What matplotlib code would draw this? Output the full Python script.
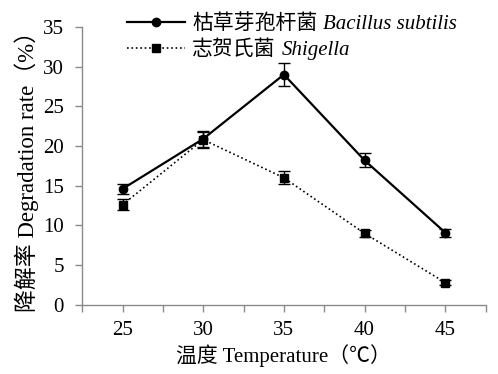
import numpy as np
import matplotlib
matplotlib.use("Agg")
import matplotlib.pyplot as plt
from matplotlib.lines import Line2D

# ---- data ----
temps = ["25", "30", "35", "40", "45"]
bacillus = [14.6, 20.9, 29.0, 18.2, 9.1]
bacillus_err = [0.6, 1.0, 1.4, 0.9, 0.5]
shigella = [12.6, 20.8, 16.0, 9.0, 2.8]
shigella_err = [0.7, 1.0, 0.8, 0.4, 0.3]
labels_cn = ['枯草芽孢杆菌', '志贺氏菌']
labels_latin = ['Bacillus subtilis', 'Shigella']

plt.rcParams['font.family'] = ['Liberation Serif', 'Noto Sans CJK SC']

fig = plt.figure(figsize=(4.98, 3.74), dpi=100)
ax = fig.add_axes([0.165, 0.185, 0.81, 0.743])

x = np.arange(1, len(temps) + 1)
ax.errorbar(x, bacillus, yerr=bacillus_err, color='black', linestyle='-', linewidth=1.6,
            marker='o', markersize=6, capsize=4, elinewidth=1, capthick=1)
ax.errorbar(x, shigella, yerr=shigella_err, color='black', linestyle=':', linewidth=1.2,
            marker='s', markersize=6, capsize=4, elinewidth=1, capthick=1)

ax.set_xlim(0.5, len(temps) + 0.5)
ax.set_ylim(0, 35)
ax.set_yticks(np.arange(0, 36, 5))
ax.set_xticks(x)
ax.set_xticklabels(temps)
ax.set_xticks(np.arange(0.5, len(temps) + 1, 1.0), minor=True)

for s in ['top', 'right']:
    ax.spines[s].set_visible(False)
for s in ['left', 'bottom']:
    ax.spines[s].set_color('#8a8a8a')
    ax.spines[s].set_linewidth(1.0)

ax.tick_params(axis='both', which='both', direction='out', color='#8a8a8a',
               length=5, width=1, labelsize=15)
ax.tick_params(axis='x', which='major', pad=7)
ax.tick_params(axis='y', pad=8)

ax.set_ylabel('降解率 Degradation rate（%）', fontsize=16.5, labelpad=3)
ax.set_xlabel('温度 Temperature（℃）', fontsize=15, labelpad=3)

# legend handles without the error bars
handles = [
    Line2D([], [], color='black', linestyle='-', linewidth=1.6, marker='o', markersize=6),
    Line2D([], [], color='black', linestyle=':', linewidth=1.2, marker='s', markersize=6),
]
leg = ax.legend(handles, labels_cn, loc='upper left', bbox_to_anchor=(0.09, 1.075),
                frameon=False, fontsize=15, handlelength=2.8, handletextpad=0.35,
                labelspacing=0.3, borderaxespad=0)

# italic species names after the Chinese legend text
fig.canvas.draw()
for t, name in zip(leg.get_texts(), labels_latin):
    ax.annotate(name, xy=(1, 0), xycoords=t, xytext=(4, 0), textcoords='offset points',
                va='bottom', ha='left', fontsize=15, style='italic',
                family='Liberation Serif')

fig.savefig('out.png', dpi=100)
